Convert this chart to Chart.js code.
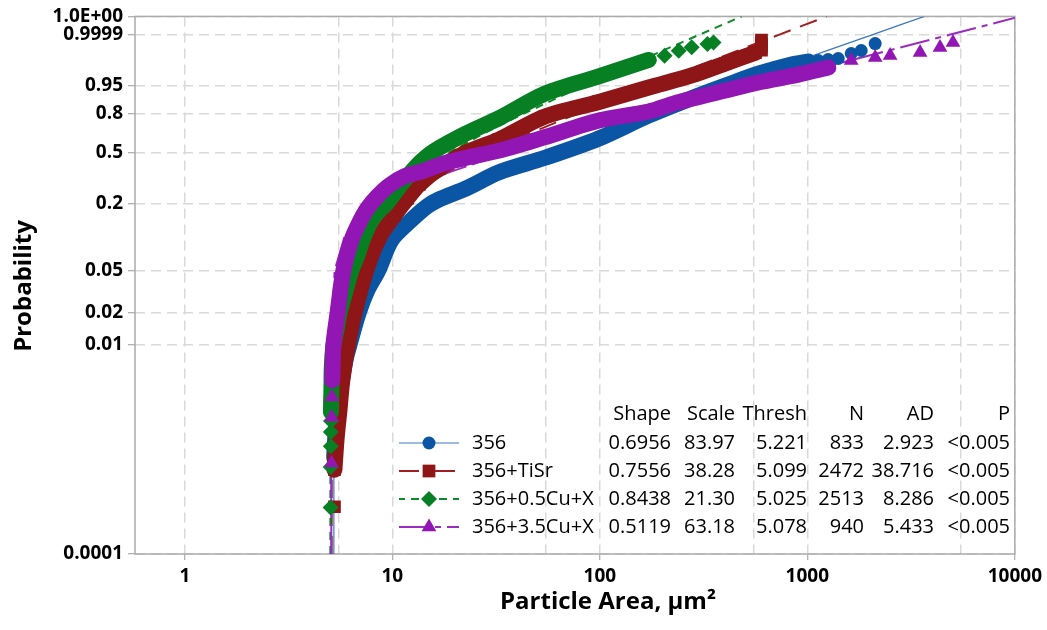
<!DOCTYPE html>
<html lang="en">
<head>
<meta charset="UTF-8">
<title>Particle Area - Weibull probability plot</title>
<script src="https://cdn.jsdelivr.net/npm/chart.js"></script>
<style>
    body { margin: 0; background: #fff; }
    #caixa { width: 1047px; height: 630px; }
</style>
</head>
<body>
<div id="caixa"><canvas id="grafico" width="1047" height="630"></canvas></div>
<script>
// axis ticks
const yTickVals = [0.0001, 0.01, 0.02, 0.05, 0.2, 0.5, 0.8, 0.95, 0.9999, 0.999999];
const yTickLabels = ['0.0001', '0.01', '0.02', '0.05', '0.2', '0.5', '0.8', '0.95', '0.9999', '1.0E+00'];
const xTickVals = [1, 10, 100, 1000, 10000];
const xTickLabels = ['1', '10', '100', '1000', '10000'];
const xMinorVals = [5.5, 55, 550, 5500];

// legend table
const seriesNames = ['356', '356+TiSr', '356+0.5Cu+X', '356+3.5Cu+X'];
const statHeads = ['Shape', 'Scale', 'Thresh', 'N', 'AD', 'P'];
const shapeVals = ['0.6956', '0.7556', '0.8438', '0.5119'];
const scaleVals = ['83.97', '38.28', '21.30', '63.18'];
const threshVals = ['5.221', '5.099', '5.025', '5.078'];
const nVals = ['833', '2472', '2513', '940'];
const adVals = ['2.923', '38.716', '8.286', '5.433'];
const pVals = ['<0.005', '<0.005', '<0.005', '<0.005'];

// plotted points (particle area, cumulative probability)
const blueX = [5.24, 5.38, 5.62, 5.94, 6.21, 6.87, 7.58, 8.56, 9.89, 12.3, 14.7, 16.8, 22.7, 32.7, 54.4, 98.9, 172, 277, 403, 581, 838, 1011, 1129, 1260, 1409, 1627, 1818, 2123];
const blueP = [0.00084, 0.0019, 0.0037, 0.0071, 0.0099, 0.0198, 0.0327, 0.0503, 0.0951, 0.1437, 0.19, 0.218, 0.269, 0.3605, 0.459, 0.609, 0.79, 0.898, 0.951, 0.98, 0.9917, 0.994, 0.99466, 0.9952, 0.99578, 0.99777, 0.99853, 0.9995];
const redX = [5.26, 5.26, 5.38, 5.56, 5.74, 6.08, 6.57, 7.49, 8.66, 10.22, 11.81, 13.49, 16.83, 22.69, 32.68, 54.4, 98.9, 172, 277, 403, 562, 601, 601, 601, 601];
const redP = [0.000283, 0.00064, 0.00123, 0.00237, 0.00458, 0.0095, 0.0198, 0.0503, 0.101, 0.159, 0.222, 0.29, 0.385, 0.499, 0.6015, 0.7825, 0.8776, 0.9443, 0.9768, 0.9926, 0.998, 0.9986, 0.9991, 0.9995, 0.99972];
const greenX = [5.04, 5.04, 5.05, 5.05, 5.06, 5.06, 5.07, 5.09, 5.1, 5.15, 5.2, 5.38, 5.56, 5.88, 6.35, 6.79, 7.17, 7.93, 8.66, 9.36, 10.22, 11.42, 13.49, 15.92, 22.69, 32.68, 54.4, 98.9, 172, 205, 240, 277, 330, 353];
const greenP = [0.000279, 0.000677, 0.00107, 0.00147, 0.00187, 0.00227, 0.00295, 0.0041, 0.0057, 0.008, 0.0099, 0.0138, 0.0198, 0.0298, 0.0503, 0.0693, 0.0951, 0.1437, 0.1755, 0.2, 0.2449, 0.3122, 0.42, 0.51, 0.65, 0.77, 0.92, 0.975, 0.995, 0.997, 0.9985, 0.9991, 0.99945, 0.99958];
const purpleX = [5.09, 5.1, 5.11, 5.13, 5.2, 5.44, 5.81, 6.35, 6.94, 7.58, 8.47, 9.67, 11.42, 13.49, 17.78, 22.7, 32.7, 53.8, 98.9, 172, 232, 403, 581, 905, 1262, 1627, 2123, 2506, 3494, 4359, 5033];
const purpleP = [0.00074, 0.00203, 0.00316, 0.00458, 0.0099, 0.0198, 0.0503, 0.0951, 0.1378, 0.1826, 0.231, 0.2843, 0.3348, 0.3605, 0.4188, 0.459, 0.5129, 0.6177, 0.7527, 0.8179, 0.8723, 0.9331, 0.9603, 0.9785, 0.9887, 0.99466, 0.99627, 0.9971, 0.99805, 0.99906, 0.99958];

// fitted 3-parameter weibull lines
const fitP = [0.0001, 0.001, 0.01, 0.05, 0.1, 0.2, 0.3, 0.5, 0.65, 0.8, 0.95, 0.99, 0.999, 0.9999, 0.99999, 0.999999];
const blueFitX = [5.221, 5.225, 5.334, 6.395, 8.525, 14.94, 24.29, 54.8, 95.27, 171.7, 411.8, 759.7, 1357, 2049, 2822, 3666];
const redFitX = [5.099, 5.103, 5.186, 5.85, 7.047, 10.36, 14.88, 28.67, 45.92, 76.96, 168.6, 294, 499.2, 728.1, 976.5, 1242];
const greenFitX = [5.025, 5.031, 5.116, 5.656, 6.505, 8.626, 11.3, 18.82, 27.59, 42.46, 83.2, 135.2, 215.5, 301, 390.5, 483.5];
const purpleFitX = [5.078, 5.078, 5.086, 5.269, 5.857, 8.451, 13.51, 35.96, 74.55, 165.2, 543.9, 1253, 2761, 4839, 7481, 10600];

// where the dense band of points runs (first, last index)
const blueBand = [0, 21];
const redBand = [1, 20];
const greenBand = [5, 28];
const purpleBand = [3, 24];

const cores = ['#0a56a5', '#8e1616', '#068022', '#9216b4'];
const coresFit = ['#3a78c2', '#9e2020', '#0b8a2a', '#9a2cc0'];
const tracos = [[], [18, 10], [8, 6], [30, 6, 6, 6]];
const larguras = [1.2, 2, 2, 2];
const estilos = ['circle', 'rect', 'rectRot', 'triangle'];
const raios = [6.5, 9, 8, 8.5];

// weibull probability axis
const tw = p => Math.log(-Math.log(1 - p));
class WeibullScale extends Chart.LinearScale {
    getPixelForValue(v) {
        const a = tw(this.min), b = tw(this.max);
        return this.getPixelForDecimal((tw(v) - a) / (b - a));
    }
    getValueForPixel(px) {
        const a = tw(this.min), b = tw(this.max);
        const w = a + this.getDecimalForPixel(px) * (b - a);
        return 1 - Math.exp(-Math.exp(w));
    }
}
WeibullScale.id = 'weibull';
WeibullScale.defaults = Chart.LinearScale.defaults;
Chart.register(WeibullScale);

function pares(xs, ps) {
    return xs.map((x, i) => ({ x: x, y: ps[i] }));
}

function marcador(ctx, estilo, x, y, r) {
    ctx.beginPath();
    if (estilo === 'circle') {
        ctx.arc(x, y, r, 0, Math.PI * 2);
    } else if (estilo === 'rect') {
        const s = r * Math.SQRT1_2;
        ctx.rect(x - s, y - s, 2 * s, 2 * s);
    } else if (estilo === 'rectRot') {
        ctx.moveTo(x, y - r); ctx.lineTo(x + r, y); ctx.lineTo(x, y + r); ctx.lineTo(x - r, y);
        ctx.closePath();
    } else {
        ctx.moveTo(x, y - r); ctx.lineTo(x + 0.866 * r, y + 0.5 * r); ctx.lineTo(x - 0.866 * r, y + 0.5 * r);
        ctx.closePath();
    }
    ctx.fill();
}

const series = [
    [blueX, blueP, blueFitX, blueBand],
    [redX, redP, redFitX, redBand],
    [greenX, greenP, greenFitX, greenBand],
    [purpleX, purpleP, purpleFitX, purpleBand]
];

const datasets = [];
series.forEach((s, i) => {
    const pts = pares(s[0], s[1]);
    datasets.push({
        label: seriesNames[i] + ' fit',
        data: pares(s[2], fitP),
        showLine: true, pointRadius: 0,
        borderColor: coresFit[i], borderWidth: larguras[i], borderDash: tracos[i],
        clip: 0, order: 12 - i
    });
    datasets.push({
        label: seriesNames[i] + ' band',
        data: pts.slice(s[3][0], s[3][1] + 1),
        showLine: true, pointRadius: 0, tension: 0.3,
        borderColor: cores[i], borderWidth: 16,
        borderJoinStyle: 'round', borderCapStyle: 'round',
        clip: 0, order: 8 - 2 * i
    });
    datasets.push({
        label: seriesNames[i],
        data: pts,
        showLine: false,
        pointStyle: estilos[i], pointRadius: raios[i], pointBorderWidth: 0,
        pointBackgroundColor: cores[i], pointBorderColor: cores[i],
        clip: 0, order: 7 - 2 * i
    });
});

const legOffset = [0, 0, 2, 0];

const extras = {
    id: 'extras',
    beforeDatasetsDraw(chart) {
        const { ctx, chartArea: a } = chart;
        ctx.save();
        ctx.strokeStyle = '#ababab';
        ctx.lineWidth = 1.5;
        ctx.strokeRect(a.left, a.top, a.right - a.left, a.bottom - a.top);
        ctx.restore();
    },
    afterDraw(chart) {
        const ctx = chart.ctx;
        ctx.save();
        ctx.fillStyle = '#000';
        ctx.font = 'bold 24px "Open Sans"';
        ctx.textAlign = 'center';
        ctx.textBaseline = 'alphabetic';
        ctx.fillText('Particle Area, µm²', 608, 609);
        ctx.save();
        ctx.translate(31, 286);
        ctx.rotate(-Math.PI / 2);
        ctx.fillText('Probability', 0, 0);
        ctx.restore();

        // stats table
        const colRight = [671, 735, 807, 864, 934, 1010];
        ctx.font = '20px "Open Sans"';
        ctx.textBaseline = 'middle';
        ctx.textAlign = 'right';
        statHeads.forEach((h, j) => ctx.fillText(h, colRight[j], 414));
        for (let i = 0; i < seriesNames.length; i++) {
            const y = 443 + i * 28;
            const linha = [shapeVals[i], scaleVals[i], threshVals[i], nVals[i], adVals[i], pVals[i]];
            ctx.fillStyle = '#000';
            ctx.textAlign = 'right';
            linha.forEach((t, j) => ctx.fillText(t, colRight[j], y));
            ctx.textAlign = 'left';
            ctx.fillText(seriesNames[i], 472, y);
            ctx.strokeStyle = coresFit[i];
            ctx.lineWidth = larguras[i];
            ctx.setLineDash(i === 1 ? [20, 16] : tracos[i]);
            ctx.lineDashOffset = legOffset[i];
            ctx.beginPath();
            ctx.moveTo(399, y);
            ctx.lineTo(459, y);
            ctx.stroke();
            ctx.setLineDash([]);
            ctx.fillStyle = cores[i];
            marcador(ctx, estilos[i], 429, y, raios[i]);
        }
        ctx.restore();
    }
};

const chart = new Chart('grafico', {
    type: 'scatter',
    data: { datasets: datasets },
    options: {
        responsive: false,
        animation: false,
        events: [],
        layout: { padding: { top: 16, right: 30, left: 0, bottom: 0 } },
        plugins: { legend: { display: false }, tooltip: { enabled: false } },
        scales: {
            x: {
                type: 'logarithmic',
                min: 0.575,
                max: 10000,
                afterFit: s => { s.height = 76; },
                afterBuildTicks: s => {
                    s.ticks = xTickVals.concat(xMinorVals).sort((a, b) => a - b).map(v => ({ value: v }));
                },
                ticks: {
                    autoSkip: false, maxRotation: 0, padding: 5, color: '#000',
                    font: { family: 'Open Sans', size: 19, weight: 'bold' },
                    callback: v => {
                        const k = xTickVals.indexOf(v);
                        return k >= 0 ? xTickLabels[k] : '';
                    }
                },
                grid: {
                    color: '#d9d9d9', lineWidth: 1.5, tickLength: 6, tickWidth: 1,
                    tickColor: c => (c.tick && xTickVals.indexOf(c.tick.value) >= 0) ? '#9a9a9a' : 'rgba(0,0,0,0)',
                    tickBorderDash: []
                },
                border: { display: false, dash: [10, 6] }
            },
            y: {
                type: 'weibull',
                min: 0.0001,
                max: 0.999999,
                bounds: 'data',
                afterFit: s => { s.width = 135; },
                afterBuildTicks: s => {
                    s.ticks = yTickVals.map(v => ({ value: v }));
                },
                ticks: {
                    autoSkip: false, padding: 5, color: '#000',
                    font: { family: 'Open Sans', size: 19, weight: 'bold' },
                    callback: v => {
                        const k = yTickVals.indexOf(v);
                        return k >= 0 ? yTickLabels[k] : '';
                    }
                },
                grid: {
                    color: '#d9d9d9', lineWidth: 1.5, tickLength: 7, tickWidth: 1,
                    tickColor: '#9a9a9a', tickBorderDash: []
                },
                border: { display: false, dash: [10, 6] }
            }
        }
    },
    plugins: [extras]
});
</script>
</body>
</html>
